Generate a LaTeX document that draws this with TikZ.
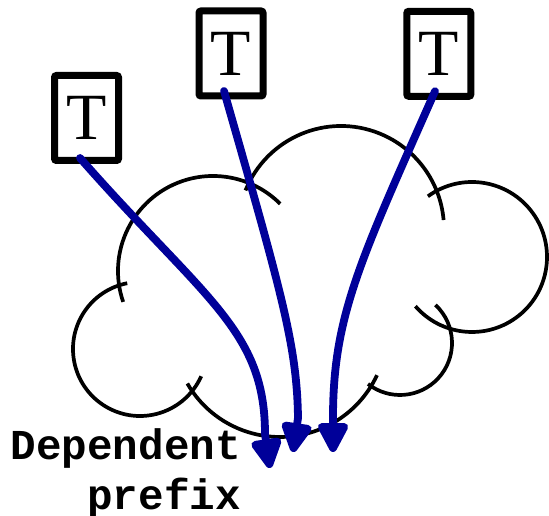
\documentclass[tikz,border=0pt]{standalone}
\usepackage{fontspec}
\setmainfont{Liberation Serif}
\setmonofont{Liberation Mono}
\usetikzlibrary{arrows.meta,calc}
\definecolor{arrowblue}{RGB}{0,0,153}
\tikzset{
  lobe/.style={draw=black, line width=3.7pt, line cap=butt},
  tbox/.style={draw=black, fill=white, line width=7pt, rounded corners=2pt,
    minimum width=64pt, minimum height=85pt, inner sep=0pt,
    font=\fontsize{66}{66}\selectfont},
  dep/.style={draw=arrowblue, line width=7.8pt, line cap=round,
    -{Triangle[length=34pt,width=33pt,round=false]}, fill=none},
  lbl/.style={font=\ttfamily\bfseries\fontsize{42.6}{50}\selectfont, align=right, inner sep=0pt}
}
\begin{document}
\begin{tikzpicture}[x=1pt,y=1pt]
\useasboundingbox (0,0) rectangle (549,516);
% cloud lobes
\draw[lobe] ([shift={(101:67pt)}]140,167) arc[start angle=101, end angle=336, radius=67pt];
\draw[lobe] ([shift={(199:95pt)}]213,245) arc[start angle=199, end angle=45, radius=95pt];
\draw[lobe] ([shift={(158:103pt)}]341,287) arc[start angle=158, end angle=5, radius=103pt];
\draw[lobe] ([shift={(126:75pt)}]472,259) arc[start angle=126, end angle=-139, radius=75pt];
\draw[lobe] ([shift={(47:52pt)}]400,173) arc[start angle=47, end angle=-128, radius=52pt];
\draw[lobe] ([shift={(210:107pt)}]280,186) arc[start angle=210, end angle=335, radius=107pt];
% boxes
\node[tbox] (b1) at (86.5,398) {T};
\node[tbox] (b2) at (231,462.5) {T};
\node[tbox] (b3) at (438.8,462.2) {T};
% label
\node[lbl, anchor=north east] (dp) at (241,87.5) {Dependent\\prefix};
% arrow end points
\coordinate (e1) at (270,48);
\coordinate (e2) at (293,64);
\coordinate (e3) at (333,64);
% arrows
\draw[dep] ([xshift=-6.5pt,yshift=6pt]b1.south) .. controls (205,216) and (265,186) .. (265,82) -- (e1);
\draw[dep] ([xshift=-7pt,yshift=8.5pt]b2.south) .. controls (282,222) and (297,170) .. (298,98) -- (e2);
\draw[dep] ([xshift=-3.8pt,yshift=8.5pt]b3.south) .. controls (360,255) and (333,200) .. (333,98) -- (e3);
\end{tikzpicture}
\end{document}
